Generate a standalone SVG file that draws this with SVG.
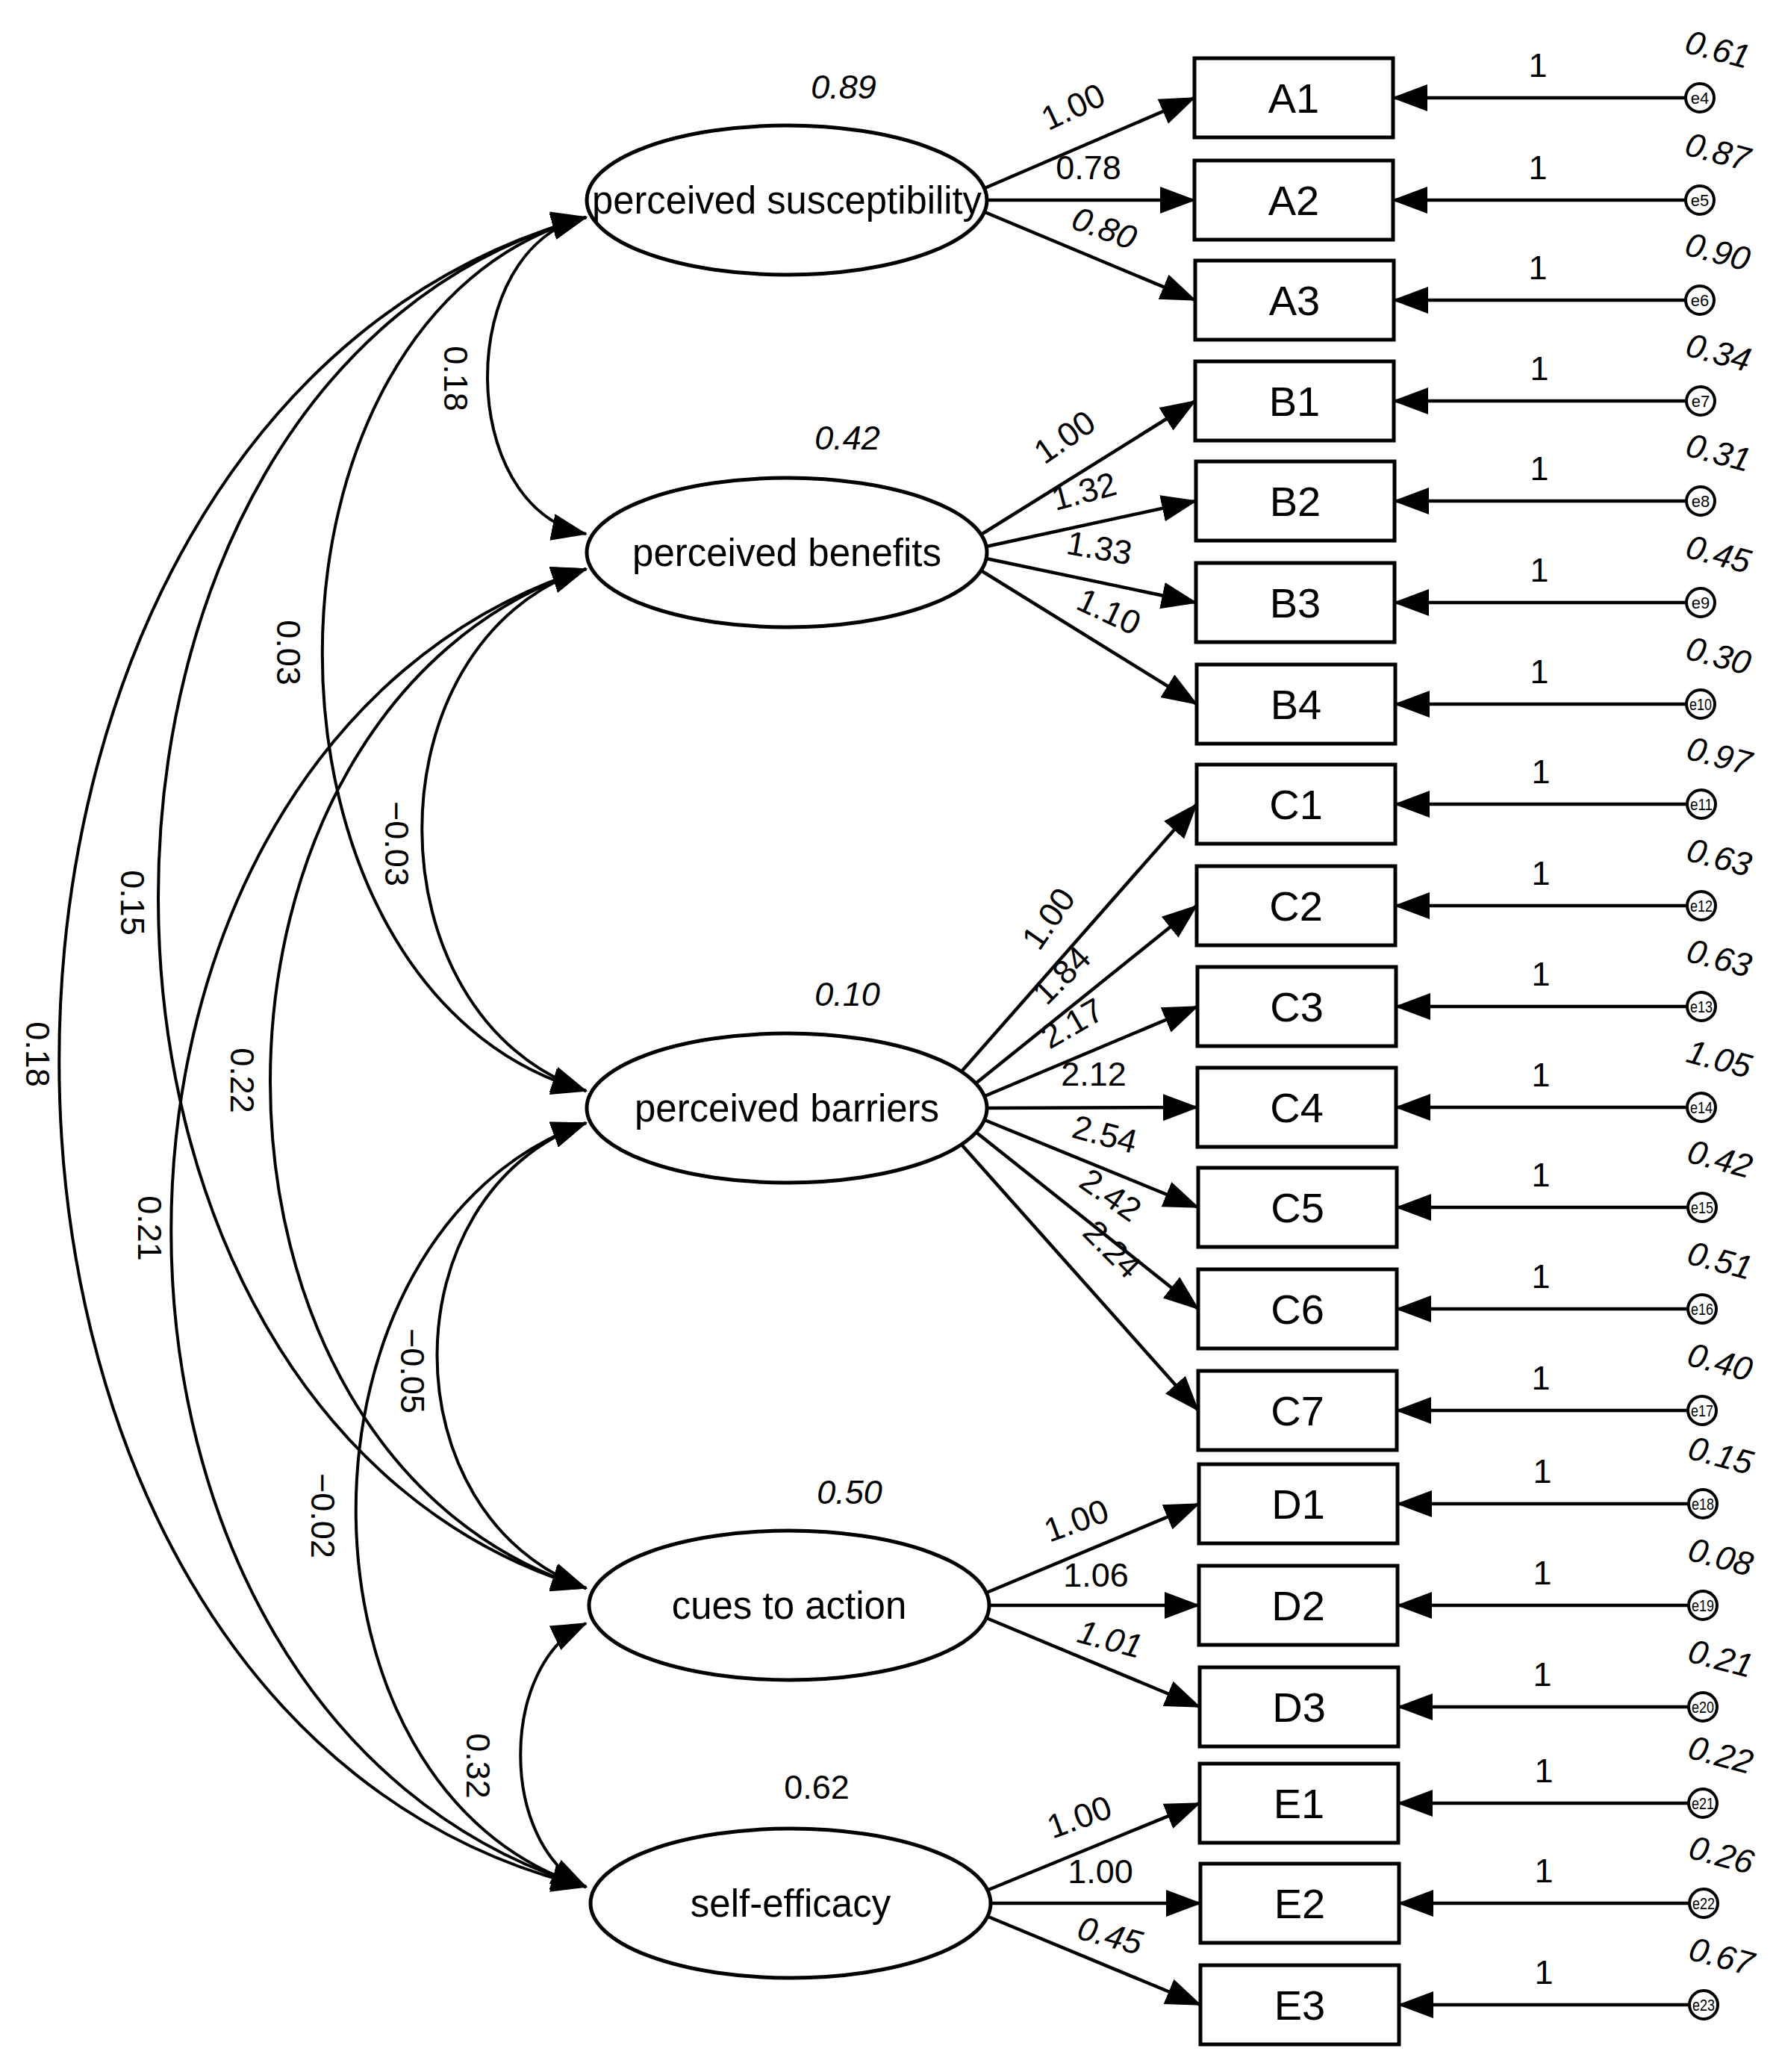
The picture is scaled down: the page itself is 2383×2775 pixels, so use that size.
<svg xmlns="http://www.w3.org/2000/svg" width="2383" height="2775" viewBox="0 0 2383 2775">
<style>
text{font-family:"Liberation Sans",Arial,sans-serif;fill:#000}
.box{fill:#fff;stroke:#000;stroke-width:5}
.ell{fill:#fff;stroke:#000;stroke-width:5}
.bl{font-size:56px;text-anchor:middle;dominant-baseline:central}
.el{font-size:51px;text-anchor:middle;dominant-baseline:central}
.num{font-size:45px;text-anchor:middle}
.it{font-style:italic}
.ec{fill:#fff;stroke:#000;stroke-width:4}
.et{font-size:22px;text-anchor:middle;dominant-baseline:central}
.ln{fill:none;stroke:#000;stroke-width:4.5;marker-end:url(#ah)}
.cv{fill:none;stroke:#000;stroke-width:4;marker-start:url(#ah);marker-end:url(#ah)}
</style>
<defs>
<marker id="ah" markerUnits="userSpaceOnUse" markerWidth="50" markerHeight="40" refX="46" refY="18" orient="auto-start-reverse" viewBox="0 0 50 36">
<path d="M0,0 L48,18 L0,36 Z" fill="#000"/>
</marker>
</defs>
<rect width="2383" height="2775" fill="#fff"/>
<g id="connectors">
<path class="cv" d="M785,291 C609,330 609,680 785,715"/>
<path class="cv" d="M785,291 C314,420 314,1330 785,1461"/>
<path class="cv" d="M785,291 C21,500 21,1900 785,2127"/>
<path class="cv" d="M785,291 C-156,550 -156,2300 785,2527"/>
<path class="cv" d="M785,762 C492,860 492,1360 785,1461"/>
<path class="cv" d="M785,762 C221,950 221,1950 785,2127"/>
<path class="cv" d="M785,762 C44,1000 44,2300 785,2527"/>
<path class="cv" d="M785,1504 C519,1600 519,2030 785,2127"/>
<path class="cv" d="M785,1504 C374,1650 374,2400 785,2527"/>
<path class="cv" d="M785,2174 C668,2230 668,2470 785,2527"/>
<g class="num">
<text transform="translate(595,507) rotate(90)">0.18</text>
<text transform="translate(371,874) rotate(90)">0.03</text>
<text transform="translate(162,1209) rotate(90)">0.15</text>
<text transform="translate(35,1412) rotate(90)">0.18</text>
<text transform="translate(516,1130) rotate(90)">−0.03</text>
<text transform="translate(309,1447) rotate(90)">0.22</text>
<text transform="translate(185,1645) rotate(90)">0.21</text>
<text transform="translate(537,1836) rotate(90)">−0.05</text>
<text transform="translate(417,2030) rotate(90)">−0.02</text>
<text transform="translate(625,2365) rotate(90)">0.32</text>
</g>
<path class="ln" d="M1319,252 L1600,131"/>
<path class="ln" d="M1322,268 L1600,268"/>
<path class="ln" d="M1319,284 L1601,402"/>
<path class="ln" d="M1314,716 L1601,537"/>
<path class="ln" d="M1321,732 L1602,671"/>
<path class="ln" d="M1321,748 L1602,807"/>
<path class="ln" d="M1314,764 L1603,943"/>
<path class="ln" d="M1288,1435 L1603,1077"/>
<path class="ln" d="M1307,1451 L1603,1213"/>
<path class="ln" d="M1319,1468 L1604,1348"/>
<path class="ln" d="M1322,1484 L1604,1483"/>
<path class="ln" d="M1319,1500 L1605,1617"/>
<path class="ln" d="M1307,1516 L1605,1753"/>
<path class="ln" d="M1288,1533 L1605,1889"/>
<path class="ln" d="M1319,2134 L1606,2014"/>
<path class="ln" d="M1322,2150 L1606,2150"/>
<path class="ln" d="M1319,2166 L1607,2286"/>
<path class="ln" d="M1319,2533 L1607,2415"/>
<path class="ln" d="M1322,2549 L1608,2549"/>
<path class="ln" d="M1319,2565 L1608,2685"/>
<g class="num">
<text transform="translate(1444,157) rotate(-25)">1.00</text>
<text transform="translate(1458,240)">0.78</text>
<text class="it" transform="translate(1474,320) rotate(20)">0.80</text>
<text transform="translate(1435,598) rotate(-35)">1.00</text>
<text transform="translate(1456,673) rotate(-15)">1.32</text>
<text transform="translate(1470,749) rotate(10)">1.33</text>
<text transform="translate(1479,833) rotate(25)">1.10</text>
<text transform="translate(1417,1239) rotate(-55)">1.00</text>
<text transform="translate(1433,1317) rotate(-45)">1.84</text>
<text transform="translate(1444,1384) rotate(-30)">2.17</text>
<text transform="translate(1465,1454)">2.12</text>
<text transform="translate(1476,1534) rotate(15)">2.54</text>
<text transform="translate(1479,1613) rotate(35)">2.42</text>
<text transform="translate(1479,1684) rotate(45)">2.24</text>
<text transform="translate(1447,2051) rotate(-20)">1.00</text>
<text transform="translate(1468,2125)">1.06</text>
<text class="it" transform="translate(1483,2210) rotate(15)">1.01</text>
<text transform="translate(1451,2448) rotate(-20)">1.00</text>
<text transform="translate(1474,2522)">1.00</text>
<text class="it" transform="translate(1483,2607) rotate(15)">0.45</text>
</g>
<path class="ln" d="M2259,131 L1866,131"/>
<path class="ln" d="M2259,268 L1866,268"/>
<path class="ln" d="M2259,402 L1867,402"/>
<path class="ln" d="M2260,537 L1867,537"/>
<path class="ln" d="M2260,671 L1868,671"/>
<path class="ln" d="M2260,807 L1868,807"/>
<path class="ln" d="M2260,943 L1869,943"/>
<path class="ln" d="M2261,1077 L1869,1077"/>
<path class="ln" d="M2261,1213 L1869,1213"/>
<path class="ln" d="M2261,1348 L1870,1348"/>
<path class="ln" d="M2261,1483 L1870,1483"/>
<path class="ln" d="M2262,1617 L1871,1617"/>
<path class="ln" d="M2262,1753 L1871,1753"/>
<path class="ln" d="M2262,1889 L1871,1889"/>
<path class="ln" d="M2263,2014 L1872,2014"/>
<path class="ln" d="M2263,2150 L1872,2150"/>
<path class="ln" d="M2263,2286 L1873,2286"/>
<path class="ln" d="M2263,2415 L1873,2415"/>
<path class="ln" d="M2264,2549 L1874,2549"/>
<path class="ln" d="M2264,2685 L1874,2685"/>
<g class="num">
<text x="2060" y="103">1</text><text x="2060" y="240">1</text><text x="2060" y="374">1</text>
<text x="2062" y="509">1</text><text x="2062" y="643">1</text><text x="2062" y="779">1</text><text x="2062" y="915">1</text>
<text x="2064" y="1049">1</text><text x="2064" y="1185">1</text><text x="2064" y="1320">1</text><text x="2064" y="1455">1</text>
<text x="2064" y="1589">1</text><text x="2064" y="1725">1</text><text x="2064" y="1861">1</text>
<text x="2066" y="1986">1</text><text x="2066" y="2122">1</text><text x="2066" y="2258">1</text>
<text x="2068" y="2387">1</text><text x="2068" y="2521">1</text><text x="2068" y="2657">1</text>
</g>
<g class="num it">
<text transform="translate(2297,81) rotate(15)">0.61</text>
<text transform="translate(2297,218) rotate(15)">0.87</text>
<text transform="translate(2297,352) rotate(15)">0.90</text>
<text transform="translate(2298,487) rotate(15)">0.34</text>
<text transform="translate(2298,621) rotate(15)">0.31</text>
<text transform="translate(2298,757) rotate(15)">0.45</text>
<text transform="translate(2298,893) rotate(15)">0.30</text>
<text transform="translate(2299,1027) rotate(15)">0.97</text>
<text transform="translate(2299,1163) rotate(15)">0.63</text>
<text transform="translate(2299,1298) rotate(15)">0.63</text>
<text transform="translate(2299,1433) rotate(15)">1.05</text>
<text transform="translate(2300,1567) rotate(15)">0.42</text>
<text transform="translate(2300,1703) rotate(15)">0.51</text>
<text transform="translate(2300,1839) rotate(15)">0.40</text>
<text transform="translate(2301,1964) rotate(15)">0.15</text>
<text transform="translate(2301,2100) rotate(15)">0.08</text>
<text transform="translate(2301,2236) rotate(15)">0.21</text>
<text transform="translate(2301,2365) rotate(15)">0.22</text>
<text transform="translate(2302,2499) rotate(15)">0.26</text>
<text transform="translate(2302,2635) rotate(15)">0.67</text>
</g>
</g>
<g id="PS"><ellipse class="ell" cx="1054" cy="268" rx="268" ry="100"/><text class="el" x="1054" y="268" textLength="522" lengthAdjust="spacingAndGlyphs">perceived susceptibility</text><text class="num it" x="1130" y="132">0.89</text></g>
<g id="PB"><ellipse class="ell" cx="1054" cy="740" rx="268" ry="100"/><text class="el" x="1054" y="740">perceived benefits</text><text class="num it" x="1135" y="602">0.42</text></g>
<g id="PBar"><ellipse class="ell" cx="1054" cy="1484" rx="268" ry="100"/><text class="el" x="1054" y="1484">perceived barriers</text><text class="num it" x="1135" y="1347">0.10</text></g>
<g id="Cues"><ellipse class="ell" cx="1057" cy="2150" rx="268" ry="100"/><text class="el" x="1057" y="2150">cues to action</text><text class="num it" x="1138" y="2014">0.50</text></g>
<g id="SE"><ellipse class="ell" cx="1059" cy="2549" rx="268" ry="100"/><text class="el" x="1059" y="2549">self-efficacy</text><text class="num" x="1094" y="2409">0.62</text></g>
<g id="A1"><rect class="box" x="1600" y="78" width="266" height="106"/><text class="bl" x="1733" y="131">A1</text></g>
<g id="A2"><rect class="box" x="1600" y="215" width="266" height="106"/><text class="bl" x="1733" y="268">A2</text></g>
<g id="A3"><rect class="box" x="1601" y="349" width="266" height="106"/><text class="bl" x="1734" y="402">A3</text></g>
<g id="B1"><rect class="box" x="1601" y="484" width="266" height="106"/><text class="bl" x="1734" y="537">B1</text></g>
<g id="B2"><rect class="box" x="1602" y="618" width="266" height="106"/><text class="bl" x="1735" y="671">B2</text></g>
<g id="B3"><rect class="box" x="1602" y="754" width="266" height="106"/><text class="bl" x="1735" y="807">B3</text></g>
<g id="B4"><rect class="box" x="1603" y="890" width="266" height="106"/><text class="bl" x="1736" y="943">B4</text></g>
<g id="C1"><rect class="box" x="1603" y="1024" width="266" height="106"/><text class="bl" x="1736" y="1077">C1</text></g>
<g id="C2"><rect class="box" x="1603" y="1160" width="266" height="106"/><text class="bl" x="1736" y="1213">C2</text></g>
<g id="C3"><rect class="box" x="1604" y="1295" width="266" height="106"/><text class="bl" x="1737" y="1348">C3</text></g>
<g id="C4"><rect class="box" x="1604" y="1430" width="266" height="106"/><text class="bl" x="1737" y="1483">C4</text></g>
<g id="C5"><rect class="box" x="1605" y="1564" width="266" height="106"/><text class="bl" x="1738" y="1617">C5</text></g>
<g id="C6"><rect class="box" x="1605" y="1700" width="266" height="106"/><text class="bl" x="1738" y="1753">C6</text></g>
<g id="C7"><rect class="box" x="1605" y="1836" width="266" height="106"/><text class="bl" x="1738" y="1889">C7</text></g>
<g id="D1"><rect class="box" x="1606" y="1961" width="266" height="106"/><text class="bl" x="1739" y="2014">D1</text></g>
<g id="D2"><rect class="box" x="1606" y="2097" width="266" height="106"/><text class="bl" x="1739" y="2150">D2</text></g>
<g id="D3"><rect class="box" x="1607" y="2233" width="266" height="106"/><text class="bl" x="1740" y="2286">D3</text></g>
<g id="E1"><rect class="box" x="1607" y="2362" width="266" height="106"/><text class="bl" x="1740" y="2415">E1</text></g>
<g id="E2"><rect class="box" x="1608" y="2496" width="266" height="106"/><text class="bl" x="1741" y="2549">E2</text></g>
<g id="E3"><rect class="box" x="1608" y="2632" width="266" height="106"/><text class="bl" x="1741" y="2685">E3</text></g>
<g id="e4"><circle class="ec" cx="2277" cy="131" r="19"/><text class="et" x="2277" y="131">e4</text></g>
<g id="e5"><circle class="ec" cx="2277" cy="268" r="19"/><text class="et" x="2277" y="268">e5</text></g>
<g id="e6"><circle class="ec" cx="2277" cy="402" r="19"/><text class="et" x="2277" y="402">e6</text></g>
<g id="e7"><circle class="ec" cx="2278" cy="537" r="19"/><text class="et" x="2278" y="537">e7</text></g>
<g id="e8"><circle class="ec" cx="2278" cy="671" r="19"/><text class="et" x="2278" y="671">e8</text></g>
<g id="e9"><circle class="ec" cx="2278" cy="807" r="19"/><text class="et" x="2278" y="807">e9</text></g>
<g id="e10"><circle class="ec" cx="2278" cy="943" r="19"/><text class="et" x="2278" y="943" textLength="30" lengthAdjust="spacingAndGlyphs">e10</text></g>
<g id="e11"><circle class="ec" cx="2279" cy="1077" r="19"/><text class="et" x="2279" y="1077" textLength="30" lengthAdjust="spacingAndGlyphs">e11</text></g>
<g id="e12"><circle class="ec" cx="2279" cy="1213" r="19"/><text class="et" x="2279" y="1213" textLength="30" lengthAdjust="spacingAndGlyphs">e12</text></g>
<g id="e13"><circle class="ec" cx="2279" cy="1348" r="19"/><text class="et" x="2279" y="1348" textLength="30" lengthAdjust="spacingAndGlyphs">e13</text></g>
<g id="e14"><circle class="ec" cx="2279" cy="1483" r="19"/><text class="et" x="2279" y="1483" textLength="30" lengthAdjust="spacingAndGlyphs">e14</text></g>
<g id="e15"><circle class="ec" cx="2280" cy="1617" r="19"/><text class="et" x="2280" y="1617" textLength="30" lengthAdjust="spacingAndGlyphs">e15</text></g>
<g id="e16"><circle class="ec" cx="2280" cy="1753" r="19"/><text class="et" x="2280" y="1753" textLength="30" lengthAdjust="spacingAndGlyphs">e16</text></g>
<g id="e17"><circle class="ec" cx="2280" cy="1889" r="19"/><text class="et" x="2280" y="1889" textLength="30" lengthAdjust="spacingAndGlyphs">e17</text></g>
<g id="e18"><circle class="ec" cx="2281" cy="2014" r="19"/><text class="et" x="2281" y="2014" textLength="30" lengthAdjust="spacingAndGlyphs">e18</text></g>
<g id="e19"><circle class="ec" cx="2281" cy="2150" r="19"/><text class="et" x="2281" y="2150" textLength="30" lengthAdjust="spacingAndGlyphs">e19</text></g>
<g id="e20"><circle class="ec" cx="2281" cy="2286" r="19"/><text class="et" x="2281" y="2286" textLength="30" lengthAdjust="spacingAndGlyphs">e20</text></g>
<g id="e21"><circle class="ec" cx="2281" cy="2415" r="19"/><text class="et" x="2281" y="2415" textLength="30" lengthAdjust="spacingAndGlyphs">e21</text></g>
<g id="e22"><circle class="ec" cx="2282" cy="2549" r="19"/><text class="et" x="2282" y="2549" textLength="30" lengthAdjust="spacingAndGlyphs">e22</text></g>
<g id="e23"><circle class="ec" cx="2282" cy="2685" r="19"/><text class="et" x="2282" y="2685" textLength="30" lengthAdjust="spacingAndGlyphs">e23</text></g>
</svg>
